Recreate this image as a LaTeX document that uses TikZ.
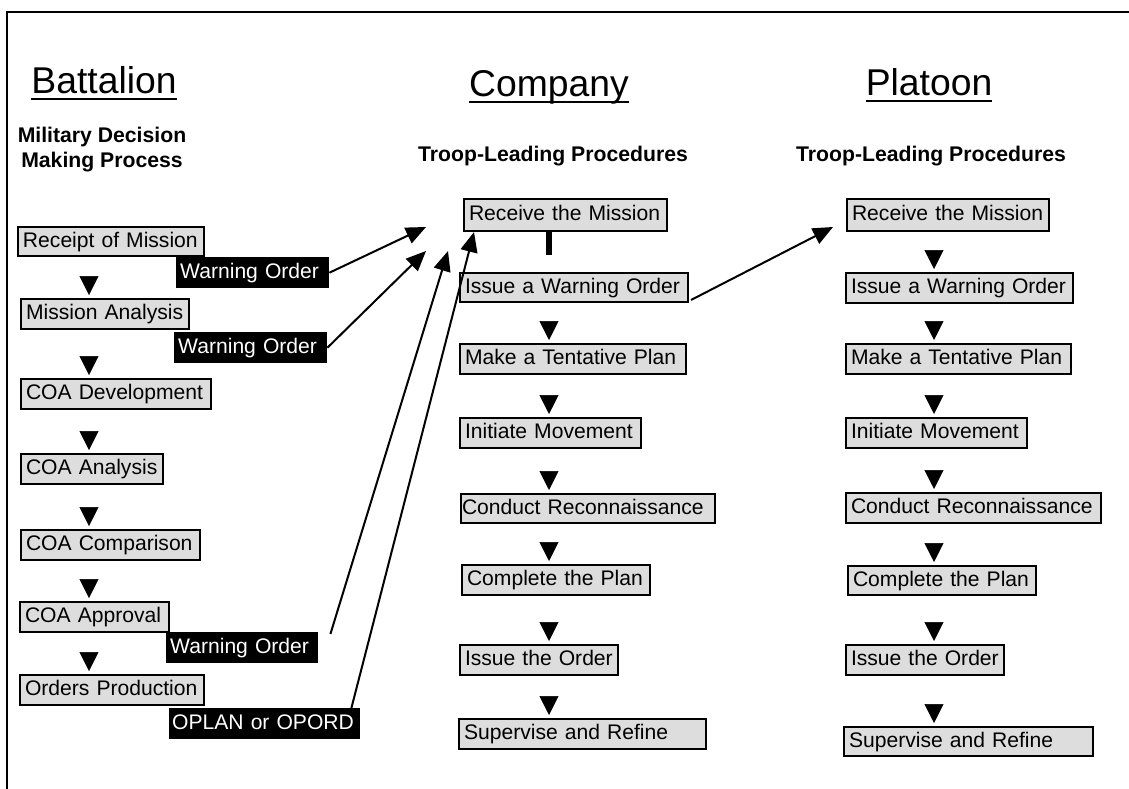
\documentclass[tikz,border=0pt]{standalone}
\usepackage{fontspec}
\setmainfont{Liberation Sans}
\usetikzlibrary{arrows.meta}

\definecolor{boxgray}{RGB}{221,221,221}
\newcommand{\boxfont}{\fontsize{21.1pt}{25pt}\selectfont}
\newcommand{\headfont}{\fontsize{37.3pt}{44pt}\selectfont}
\newcommand{\subfont}{\fontsize{21.2pt}{25pt}\selectfont\bfseries}

\begin{document}
\begin{tikzpicture}[x=1pt, y=-1pt]

	\tikzstyle{stage} = [rectangle, draw=black, line width=2pt, fill=boxgray, anchor=north west, minimum height=30pt, inner xsep=5pt, inner ysep=0pt, text height=15.5pt, text depth=4.5pt, align=left, font=\boxfont]
	\tikzstyle{order} = [rectangle, fill=black, text=white, anchor=north west, minimum height=31pt, inner xsep=4pt, inner ysep=0pt, text height=15.5pt, text depth=4.5pt, align=left, font=\boxfont]
	\tikzstyle{heading} = [inner sep=0pt, anchor=base, font=\headfont]
	\tikzstyle{subhead} = [inner sep=0pt, align=center, font=\subfont]
	\tikzstyle{flow} = [draw=white, line width=0.5pt, -{Triangle[black, width=19pt, length=19pt]}, shorten >=3pt]
	\tikzstyle{arrow} = [line width=2pt, -{Triangle[width=17pt, length=20pt]}]
	\tikzstyle{underline} = [line width=2.7pt]

	\useasboundingbox (0,0) rectangle (1129,789);
	\draw[line width=2pt] (1140,12.5) -- (6.5,12.5) -- (6.5,800);

	% Headings
	\node[heading] (bat) at (104,94) {Battalion};
	\node[heading] (com) at (549,97) {Company};
	\node[heading] (pla) at (929,96) {Platoon};
	\draw[underline] ([yshift=-5pt]bat.base west) -- ([yshift=-5pt]bat.base east);
	\draw[underline] ([yshift=-5pt]com.base west) -- ([yshift=-5pt]com.base east);
	\draw[underline] ([yshift=-5pt]pla.base west) -- ([yshift=-5pt]pla.base east);

	\node[subhead] (mdmp) at (102,150) {Military Decision\\Making Process};
	\node[subhead, anchor=base] (ctlp) at (553,161) {Troop-Leading Procedures};
	\node[subhead, anchor=base] (ptlp) at (931,161) {Troop-Leading Procedures};

	% Battalion steps
	\node[stage, text width=176pt, minimum height=29pt] (rom) at (17,226) {Receipt of Mission};
	\node[stage, text width=158pt] (ma) at (20,298) {Mission Analysis};
	\node[stage, text width=180pt] (coad) at (20,378) {COA Development};
	\node[stage, text width=132pt] (coaa) at (20,453) {COA Analysis};
	\node[stage, text width=169pt] (coac) at (20,529) {COA Comparison};
	\node[stage, text width=139pt] (coap) at (19,601) {COA Approval};
	\node[stage, text width=174pt] (op) at (19,674) {Orders Production};

	\node[order, text width=145pt] (wo1) at (176,257) {Warning Order};
	\node[order, text width=145pt] (wo2) at (174,332) {Warning Order};
	\node[order, text width=144pt] (wo3) at (166,632) {Warning Order};
	\node[order, text width=185pt, inner xsep=3pt] (oplan) at (169,708) {OPLAN or OPORD};

	% Company steps
	\node[stage, text width=193pt, minimum height=32pt] (crec) at (463,198) {Receive the Mission};
	\node[stage, text width=218pt, minimum height=29pt] (cwarn) at (459,272) {Issue a Warning Order};
	\node[stage, text width=216pt] (cplan) at (459,343) {Make a Tentative Plan};
	\node[stage, text width=171pt] (cmove) at (459,417) {Initiate Movement};
	\node[stage, text width=252pt, inner xsep=1pt, minimum height=29pt] (crecon) at (460,493) {Conduct Reconnaissance};
	\node[stage, text width=178pt] (ccomp) at (461,564) {Complete the Plan};
	\node[stage, text width=148pt] (cord) at (459,644) {Issue the Order};
	\node[stage, text width=237pt] (csup) at (458,718) {Supervise and Refine};

	% Platoon steps
	\node[stage, text width=192pt, minimum height=32pt] (prec) at (846,198) {Receive the Mission};
	\node[stage, text width=217pt] (pwarn) at (845,272) {Issue a Warning Order};
	\node[stage, text width=215pt] (pplan) at (845,343) {Make a Tentative Plan};
	\node[stage, text width=171pt] (pmove) at (845,417) {Initiate Movement};
	\node[stage, text width=245pt] (precon) at (845,492) {Conduct Reconnaissance};
	\node[stage, text width=178pt, minimum height=29pt] (pcomp) at (847,565) {Complete the Plan};
	\node[stage, text width=148pt] (pord) at (845,644) {Issue the Order};
	\node[stage, text width=239pt, minimum height=29pt] (psup) at (843,726) {Supervise and Refine};

	% Arrows
	\coordinate (lax) at (89,0);
	\coordinate (cax) at (549,0);
	\coordinate (pax) at (934,0);
	\coordinate (wo1end) at (426,227);
	\coordinate (wo2end) at (426,251);
	\coordinate (wo3end) at (448,251);
	\coordinate (pin) at (833,227);

	\draw[flow] (rom.south -| lax) -- (ma.north -| lax);
	\draw[flow] (ma.south -| lax) -- (coad.north -| lax);
	\draw[flow] (coad.south -| lax) -- (coaa.north -| lax);
	\draw[flow] (coaa.south -| lax) -- (coac.north -| lax);
	\draw[flow] (coac.south -| lax) -- (coap.north -| lax);
	\draw[flow] (coap.south -| lax) -- (op.north -| lax);

	\draw[line width=6pt, shorten >=17pt] (crec.south -| cax) -- (cwarn.north -| cax);
	\draw[flow] (cwarn.south -| cax) -- (cplan.north -| cax);
	\draw[flow] (cplan.south -| cax) -- (cmove.north -| cax);
	\draw[flow] (cmove.south -| cax) -- (crecon.north -| cax);
	\draw[flow] (crecon.south -| cax) -- (ccomp.north -| cax);
	\draw[flow] (ccomp.south -| cax) -- (cord.north -| cax);
	\draw[flow] (cord.south -| cax) -- (csup.north -| cax);

	\draw[flow] (prec.south -| pax) -- (pwarn.north -| pax);
	\draw[flow] (pwarn.south -| pax) -- (pplan.north -| pax);
	\draw[flow] (pplan.south -| pax) -- (pmove.north -| pax);
	\draw[flow] (pmove.south -| pax) -- (precon.north -| pax);
	\draw[flow] (precon.south -| pax) -- (pcomp.north -| pax);
	\draw[flow] (pcomp.south -| pax) -- (pord.north -| pax);
	\draw[flow] (pord.south -| pax) -- (psup.north -| pax);

	\draw[arrow] (wo1.east) -- (wo1end);
	\draw[arrow] (wo2.east) -- (wo2end);
	\draw[arrow] ([xshift=12pt,yshift=-2pt]wo3.north east) -- (wo3end);
	\draw[arrow] ([xshift=-9pt]oplan.north east) -- ([xshift=11pt]crec.south west);
	\draw[arrow] ([xshift=2pt,yshift=3pt]cwarn.south east) -- (pin);

\end{tikzpicture}
\end{document}
